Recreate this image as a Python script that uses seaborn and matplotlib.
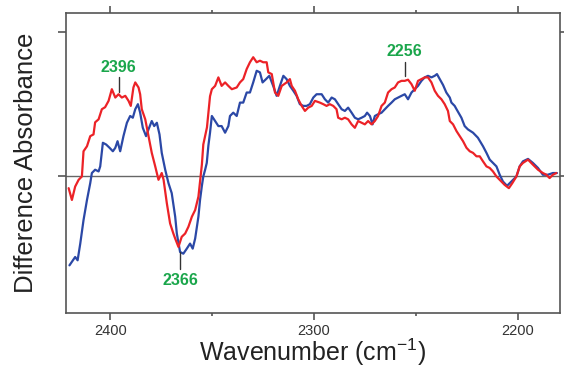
import numpy as np
import pandas as pd
import matplotlib
matplotlib.use("Agg")
import matplotlib.pyplot as plt
from matplotlib.ticker import MultipleLocator
import seaborn as sns

# ===== DATA ===================================================================

red_wn = [2420.4, 2418.8, 2417.2, 2415.5, 2413.9, 2413.1, 2411.4, 2409.8, 2408.2, 2407.4,
          2405.7, 2404.1, 2402.5, 2400.8, 2399.2, 2397.5, 2395.9, 2394.3, 2392.6, 2391.0,
          2389.9, 2388.6, 2387.7, 2386.1, 2385.3, 2384.5, 2382.8, 2381.2, 2379.6, 2377.9,
          2376.3, 2374.7, 2373.8, 2372.2, 2370.6, 2369.0, 2368.1, 2366.5, 2364.9, 2363.2,
          2361.6, 2359.9, 2358.3, 2356.7, 2355.0, 2354.3, 2353.4, 2352.5, 2351.7, 2351.0,
          2350.1, 2348.5, 2346.9, 2345.3, 2343.6, 2342.0, 2340.3, 2337.9, 2336.3, 2334.7,
          2333.0, 2331.4, 2329.8, 2328.1, 2326.5, 2324.9, 2323.2, 2322.4, 2320.7, 2319.1,
          2317.5, 2315.8, 2313.4, 2311.8, 2310.9, 2309.3, 2307.7, 2306.0, 2304.4, 2302.8,
          2301.1, 2299.5, 2297.1, 2295.4, 2293.8, 2292.2, 2290.5, 2288.9, 2288.1, 2286.4,
          2284.8, 2283.2, 2281.5, 2279.9, 2278.3, 2276.6, 2275.0, 2273.4, 2271.7, 2270.1,
          2268.5, 2266.8, 2265.2, 2263.6, 2261.9, 2260.3, 2258.7, 2257.0, 2255.4, 2253.8,
          2252.1, 2250.5, 2248.9, 2247.2, 2245.6, 2244.0, 2242.3, 2240.7, 2239.1, 2237.4,
          2235.8, 2234.2, 2233.3, 2231.7, 2230.0, 2228.4, 2226.8, 2225.1, 2223.5, 2221.9,
          2220.2, 2218.6, 2217.0, 2215.3, 2213.7, 2212.1, 2210.4, 2208.8, 2206.4, 2204.3,
          2202.6, 2200.6, 2199.0, 2197.4, 2194.9, 2192.5, 2190.0, 2187.6, 2185.9, 2184.3,
          2182.7, 2181.0]
red_abs = [-0.086, -0.168, -0.075, -0.028, -0.005, 0.170, 0.205, 0.275, 0.287, 0.371,
           0.392, 0.462, 0.476, 0.520, 0.601, 0.543, 0.566, 0.543, 0.555, 0.520,
           0.485, 0.613, 0.648, 0.613, 0.566, 0.462, 0.392, 0.275, 0.159, 0.065,
           -0.028, 0.019, -0.028, -0.191, -0.331, -0.401, -0.436, -0.494, -0.424, -0.401,
           -0.354, -0.284, -0.238, -0.145, 0.077, 0.217, 0.275, 0.336, 0.448, 0.552,
           0.601, 0.624, 0.683, 0.624, 0.648, 0.624, 0.601, 0.613, 0.648, 0.671,
           0.741, 0.788, 0.823, 0.788, 0.799, 0.788, 0.788, 0.718, 0.706, 0.578,
           0.555, 0.624, 0.648, 0.671, 0.624, 0.590, 0.531, 0.485, 0.450, 0.473,
           0.485, 0.520, 0.508, 0.497, 0.485, 0.497, 0.485, 0.462, 0.403, 0.392,
           0.403, 0.392, 0.357, 0.333, 0.380, 0.368, 0.357, 0.380, 0.357, 0.380,
           0.415, 0.485, 0.508, 0.578, 0.601, 0.613, 0.648, 0.659, 0.659, 0.667,
           0.636, 0.590, 0.659, 0.671, 0.683, 0.683, 0.648, 0.590, 0.555, 0.531,
           0.497, 0.450, 0.380, 0.357, 0.310, 0.275, 0.240, 0.194, 0.170, 0.159,
           0.135, 0.135, 0.100, 0.065, 0.054, 0.030, -0.005, -0.028, -0.063, -0.086,
           -0.051, -0.005, 0.065, 0.089, 0.112, 0.077, 0.042, 0.019, 0.007, -0.016,
           0.007, 0.019]

blue_wn = [2420.0, 2418.3, 2417.2, 2416.0, 2414.7, 2413.1, 2411.4, 2409.8, 2409.0, 2407.4,
           2405.7, 2404.9, 2403.6, 2402.0, 2400.3, 2398.7, 2397.5, 2396.4, 2395.1, 2393.5,
           2391.8, 2390.2, 2388.9, 2387.7, 2386.4, 2385.3, 2384.0, 2382.4, 2381.2, 2379.6,
           2378.4, 2377.1, 2375.8, 2374.7, 2373.0, 2371.4, 2369.8, 2368.1, 2367.3, 2365.7,
           2364.1, 2362.4, 2360.8, 2359.5, 2358.3, 2356.7, 2355.9, 2355.0, 2354.3, 2353.4,
           2352.6, 2351.8, 2351.0, 2350.1, 2348.5, 2346.9, 2345.3, 2343.6, 2342.0, 2341.2,
           2339.6, 2337.9, 2336.3, 2334.7, 2333.0, 2331.4, 2329.8, 2328.1, 2326.5, 2325.2,
           2323.5, 2321.9, 2320.0, 2318.3, 2316.7, 2315.0, 2313.4, 2311.8, 2310.1, 2308.5,
           2306.9, 2305.2, 2303.6, 2302.0, 2300.3, 2298.7, 2296.2, 2294.6, 2293.0, 2291.3,
           2289.7, 2288.1, 2286.4, 2284.8, 2283.2, 2281.5, 2279.9, 2278.3, 2276.6, 2275.0,
           2273.9, 2272.5, 2271.2, 2270.1, 2268.5, 2266.8, 2265.2, 2263.6, 2261.9, 2260.3,
           2258.7, 2257.0, 2255.4, 2253.8, 2252.1, 2250.5, 2248.9, 2247.2, 2245.6, 2244.0,
           2242.3, 2240.7, 2239.6, 2238.2, 2236.6, 2235.0, 2233.3, 2232.5, 2230.9, 2230.0,
           2227.6, 2226.0, 2224.4, 2221.9, 2219.5, 2217.0, 2215.3, 2213.7, 2212.1, 2210.4,
           2208.8, 2207.2, 2205.2, 2203.1, 2200.6, 2199.0, 2197.4, 2194.9, 2192.5, 2190.0,
           2187.6, 2185.2, 2182.7, 2180.7]
blue_abs = [-0.622, -0.587, -0.564, -0.587, -0.471, -0.308, -0.168, -0.051, 0.019, 0.042,
            0.030, 0.065, 0.229, 0.217, 0.194, 0.170, 0.194, 0.240, 0.170, 0.275,
            0.368, 0.415, 0.403, 0.462, 0.497, 0.438, 0.333, 0.275, 0.322, 0.380,
            0.345, 0.368, 0.287, 0.159, 0.042, -0.051, -0.121, -0.284, -0.401, -0.529,
            -0.541, -0.506, -0.471, -0.506, -0.436, -0.284, -0.168, -0.070, -0.005, 0.042,
            0.089, 0.210, 0.299, 0.415, 0.380, 0.345, 0.345, 0.299, 0.345, 0.415,
            0.438, 0.415, 0.508, 0.508, 0.578, 0.578, 0.648, 0.729, 0.718, 0.648,
            0.671, 0.694, 0.624, 0.555, 0.624, 0.694, 0.671, 0.624, 0.590, 0.555,
            0.497, 0.485, 0.485, 0.497, 0.543, 0.566, 0.566, 0.531, 0.508, 0.543,
            0.531, 0.497, 0.462, 0.450, 0.473, 0.438, 0.403, 0.392, 0.403, 0.415,
            0.438, 0.415, 0.357, 0.415, 0.427, 0.438, 0.462, 0.485, 0.508, 0.531,
            0.543, 0.555, 0.566, 0.531, 0.578, 0.601, 0.624, 0.659, 0.683, 0.694,
            0.683, 0.694, 0.706, 0.671, 0.630, 0.578, 0.543, 0.508, 0.485, 0.462,
            0.403, 0.345, 0.322, 0.299, 0.264, 0.205, 0.159, 0.112, 0.089, 0.065,
            0.007, -0.040, -0.070, -0.040, -0.005, 0.065, 0.100, 0.117, 0.089, 0.054,
            0.007, 0.007, 0.019, 0.019]

# peak labels: (wavenumber, tick start, tick end, text y)
peak_labels = ['2396', '2366', '2256']
peak_wn     = [2395.9, 2365.7, 2255.4]
peak_y0     = [0.580, -0.529, 0.692]
peak_y1     = [0.685, -0.645, 0.790]
peak_text_y = [0.755, -0.730, 0.860]

RED   = '#ec2227'
BLUE  = '#2b48a6'
GREEN = '#1aa64b'

# ===== PLOT ===================================================================

sns.set_style('ticks')
plt.rcParams['font.family'] = ['Liberation Sans', 'DejaVu Sans']
plt.rcParams['mathtext.default'] = 'regular'

red_df  = pd.DataFrame({'wn': red_wn, 'abs': red_abs})
blue_df = pd.DataFrame({'wn': blue_wn, 'abs': blue_abs})

fig = plt.figure(figsize=(5.64, 3.71), dpi=100)
ax = fig.add_axes([66 / 564, 1 - 313.3 / 371, (560 - 66) / 564, (313.3 - 13.3) / 371])

ax.axhline(0, color='#666666', linewidth=1.0, zorder=1)
sns.lineplot(data=red_df, x='wn', y='abs', color=RED, linewidth=1.6,
             estimator=None, sort=False, ax=ax, zorder=3)
sns.lineplot(data=blue_df, x='wn', y='abs', color=BLUE, linewidth=1.6,
             estimator=None, sort=False, ax=ax, zorder=2)

for lab, x, y0, y1, ty in zip(peak_labels, peak_wn, peak_y0, peak_y1, peak_text_y):
    ax.plot([x, x], [y0, y1], color='#333333', linewidth=1.0, zorder=4)
    ax.text(x, ty, lab, color=GREEN, fontsize=11.5, fontweight='bold',
            ha='center', va='center', zorder=5)

ax.set_xlim(2421.7, 2179.2)
ax.set_ylim(-0.955, 1.128)

ax.xaxis.set_major_locator(MultipleLocator(100))
ax.xaxis.set_minor_locator(MultipleLocator(50))
ax.set_yticks([0, 1])
ax.set_yticklabels([])

ax.tick_params(axis='x', which='major', direction='out', length=5, width=1.2,
               color='#555555', labelsize=10.5, labelcolor='#333333',
               top=True, bottom=True, pad=3)
ax.tick_params(axis='x', which='minor', direction='out', length=2, width=1.2,
               color='#555555', top=True, bottom=True)
ax.tick_params(axis='y', which='major', direction='out', length=6, width=1.2,
               color='#555555', left=True, right=True)

for side in ['left', 'right', 'top', 'bottom']:
    ax.spines[side].set_visible(True)
    ax.spines[side].set_color('#555555')
    ax.spines[side].set_linewidth(1.2)

ax.set_xlabel('Wavenumber (cm$^{-1}$)', fontsize=18, color='#222222', labelpad=-1)
ax.set_ylabel('Difference Absorbance', fontsize=18.5, color='#222222', labelpad=11)

fig.savefig('out.png', dpi=100)
